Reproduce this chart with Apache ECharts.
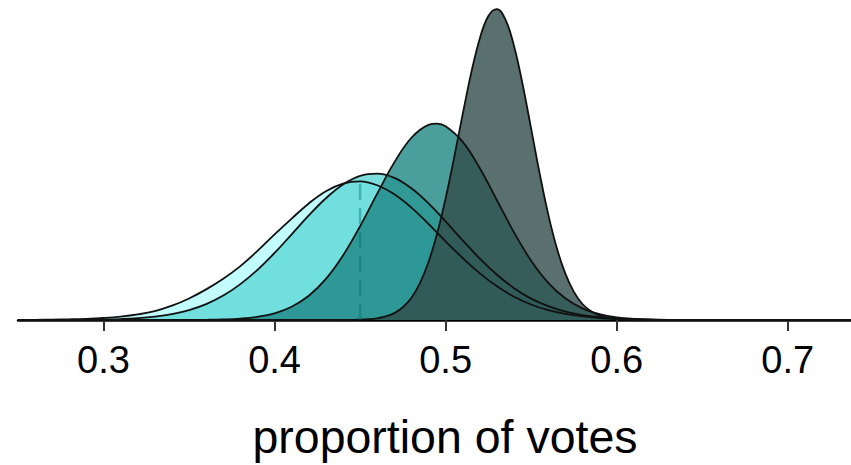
<!DOCTYPE html>
<html><head><meta charset="utf-8">
<script src="https://cdn.jsdelivr.net/npm/echarts@6/dist/echarts.min.js"></script>
<style>html,body{margin:0;padding:0;background:#fff}#c{width:851px;height:465px}</style>
</head><body><div id="c"></div>
<script>
const tickValues = [0.3, 0.4, 0.5, 0.6, 0.7];
const axisTitle = 'proportion of votes';

const gridX = [0.25,0.26,0.27,0.28,0.29,0.30,0.31,0.32,0.33,0.34,0.35,0.36,0.37,0.38,0.39,0.40,0.41,0.42,0.43,0.44,0.45,0.46,0.47,0.48,0.49,0.50,0.51,0.52,0.53,0.54,0.55,0.56,0.57,0.58,0.59,0.60,0.61,0.62,0.63,0.64,0.65,0.66,0.67,0.68,0.69,0.70,0.71,0.72,0.73,0.74];

const densA = [0.005,0.01,0.02,0.04,0.07,0.12,0.20,0.33,0.53,0.85,1.28,1.82,2.45,3.20,4.10,5.08,6.02,6.92,7.65,8.10,8.23,8.00,7.46,6.67,5.70,4.67,3.68,2.77,2.00,1.38,0.92,0.58,0.36,0.21,0.115,0.062,0.032,0.016,0.007,0.003,0.001,0,0,0,0,0,0,0,0,0];

const densB = [0,0.001,0.002,0.006,0.013,0.028,0.056,0.107,0.198,0.35,0.59,0.945,1.45,2.13,2.98,3.98,5.09,6.21,7.23,8.05,8.56,8.69,8.44,7.82,6.92,5.85,4.73,3.64,2.69,1.89,1.27,0.82,0.50,0.29,0.164,0.088,0.045,0.022,0.010,0.004,0.002,0.001,0,0,0,0,0,0,0,0];

const xC = [0.25,0.30,0.33,0.34,0.35,0.36,0.37,0.38,0.39,0.40,0.41,0.42,0.43,0.44,0.45,0.46,0.47,0.48,0.49,0.495,0.50,0.51,0.52,0.53,0.54,0.55,0.56,0.57,0.58,0.59,0.60,0.61,0.62,0.63,0.64,0.65,0.66,0.74];
const densC = [0,0,0,0.001,0.004,0.012,0.033,0.082,0.188,0.40,0.79,1.44,2.44,3.83,5.57,7.50,9.36,10.82,11.59,11.66,11.50,10.58,9.01,7.11,5.20,3.52,2.21,1.29,0.69,0.35,0.16,0.069,0.028,0.010,0.004,0.001,0,0];

const xD = [0.25,0.40,0.43,0.44,0.445,0.45,0.455,0.46,0.465,0.47,0.475,0.48,0.485,0.49,0.495,0.50,0.505,0.51,0.515,0.52,0.525,0.53,0.535,0.54,0.545,0.55,0.555,0.56,0.565,0.57,0.575,0.58,0.585,0.59,0.595,0.60,0.605,0.61,0.615,0.62,0.63,0.74];
const densD = [0,0,0,0.003,0.009,0.021,0.048,0.103,0.21,0.41,0.755,1.32,2.19,3.44,5.12,7.22,9.66,12.23,14.69,16.72,18.05,18.46,17.84,16.27,14.00,11.36,8.69,6.27,4.28,2.75,1.67,0.95,0.52,0.26,0.126,0.057,0.024,0.010,0.004,0.001,0,0];

const dashX = 0.45;
const dashTop = 8.2;

function pairs(xs, ys) { return xs.map((x, i) => [x, ys[i]]); }

function curve(data, fill) {
  return {
    type: 'line', data: data, smooth: 0.4, symbol: 'none', silent: true,
    lineStyle: { color: '#111', width: 1.8 },
    areaStyle: { color: fill, opacity: 0.8, origin: 'start' }
  };
}

const chart = echarts.init(document.getElementById('c'), null, { renderer: 'svg' });
chart.setOption({
  animation: false,
  grid: { left: 18, right: 0, top: 0, bottom: 144 },
  xAxis: {
    type: 'value', min: 0.25, max: 0.737,
    splitLine: { show: false },
    axisLine: { lineStyle: { color: '#000', width: 2.5 } },
    axisTick: { customValues: tickValues, length: 11, lineStyle: { color: '#333', width: 2 } },
    axisLabel: { customValues: tickValues, formatter: v => v.toFixed(1), fontSize: 38, color: '#000', margin: 21, fontFamily: 'Liberation Sans' },
    name: axisTitle, nameLocation: 'middle', nameGap: 93,
    nameTextStyle: { fontSize: 46.5, color: '#000', fontFamily: 'Liberation Sans', padding: [0, 0, 0, 21] }
  },
  yAxis: { type: 'value', min: 0, max: 19, show: false },
  series: [
    curve(pairs(gridX, densA), 'rgb(180,251,251)'),
    curve(pairs(gridX, densB), 'rgb(91,215,212)'),
    curve(pairs(xC, densC), 'rgb(29,134,131)'),
    curve(pairs(xD, densD), 'rgb(49,76,74)'),
    {
      type: 'line', data: [[dashX, 0], [dashX, dashTop]], symbol: 'none', silent: true,
      lineStyle: { color: '#006e6e', opacity: 0.4, width: 2.5, type: [16, 8] }
    }
  ]
});
</script>
</body></html>
